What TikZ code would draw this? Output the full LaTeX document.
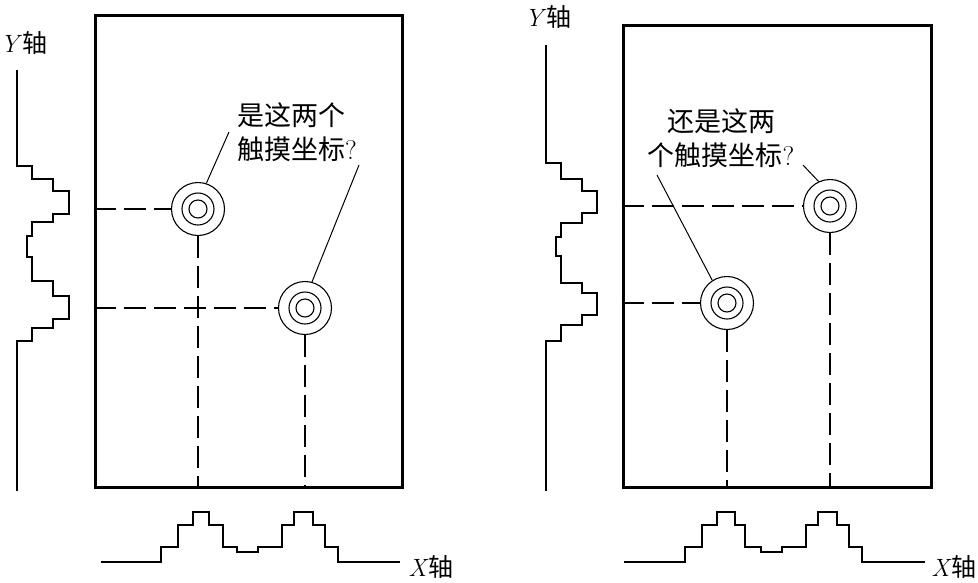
\documentclass[tikz,border=0pt]{standalone}
\usepackage{fontspec}
\newfontfamily\cjk{Noto Sans CJK SC}
\usetikzlibrary{positioning}

\begin{document}
\begin{tikzpicture}[
  x=1pt,y=-1pt,
  screen/.style={draw,line width=3pt,inner sep=0pt},
  touch/.style={circle,draw,line width=1.1pt,minimum size=53pt,inner sep=0pt},
  ring/.style={circle,draw,line width=1.1pt,inner sep=0pt},
  guide/.style={dash pattern=on 22pt off 8pt,line width=1.2pt},
  leader/.style={line width=1pt},
  profile/.style={line width=1.6pt},
  axislabel/.style={font=\fontsize{25}{30}\selectfont,inner sep=0pt},
  note/.style={font=\cjk\fontsize{27}{34}\selectfont,inner sep=0pt}
]
\useasboundingbox (0,0) rectangle (978,582);

% left panel: two touches, one reading
\node[screen,minimum width=307pt,minimum height=472pt] (sL) at (248.5,251) {};
\node[touch] (p1) at (198,209) {};
\node[touch] (p2) at (305,308) {};
\foreach \p in {p1,p2}{
  \node[ring,minimum size=32pt] at (\p) {};
  \node[ring,minimum size=18pt] at (\p) {};
  \draw[guide] (sL.west |- \p) -- (\p.west);
  \draw[guide] (\p.south) -- (\p.south |- sL.south);
}
\node[note,align=left] (qL) at (297,132) {是这两个\\触摸坐标\textrm{?}};
\coordinate (qL1) at (229,132);
\coordinate (qL2) at (359,165);
\draw[leader] (qL1) -- (p1.72);
\draw[leader] (qL2) -- (p2.75);

% left profiles
\draw[profile] (17,70) -- (17,166) -- (32,166) -- (32,179) -- (53,179) -- (53,191) -- (69,191) -- (69,214)
  -- (53,214) -- (53,222) -- (32,222) -- (32,236) -- (27,236) -- (27,257) -- (32,257) -- (32,281)
  -- (53,281) -- (53,296) -- (69,296) -- (69,319) -- (53,319) -- (53,328) -- (32,328) -- (32,341)
  -- (17,341) -- (17,491);
\draw[profile] (101,562) -- (161,562) -- (161,547) -- (178,547) -- (178,525) -- (193,525) -- (193,512)
  -- (209,512) -- (209,525) -- (223,525) -- (223,547) -- (237,547) -- (237,552) -- (258,552)
  -- (258,547) -- (282,547) -- (282,525) -- (294,525) -- (294,512) -- (313,512) -- (313,525)
  -- (325,525) -- (325,547) -- (338,547) -- (338,562) -- (400,562);
\node[axislabel] (yL) at (24,43) {\textit{Y}\cjk 轴};
\node[axislabel] (xL) at (431,567) {\textit{X}\cjk 轴};

% right panel: the other pairing
\node[screen,minimum width=308pt,minimum height=462pt] (sR) at (777,256) {};
\node[touch] (pA) at (830,206) {};
\node[touch] (pB) at (727,303) {};
\foreach \p in {pA,pB}{
  \node[ring,minimum size=32pt] at (\p) {};
  \node[ring,minimum size=18pt] at (\p) {};
  \draw[guide] (sR.west |- \p) -- (\p.west);
  \draw[guide] (\p.south) -- (\p.south |- sR.south);
}
\node[note,align=center] (qR) at (721,138) {还是这两\\个触摸坐标\textrm{?}};
\coordinate (qR1) at (803,165);
\coordinate (qR2) at (657,175);
\draw[leader] (qR1) -- (pA.115);
\draw[leader] (qR2) -- (pB.123);

% right profiles
\draw[profile] (546,45) -- (546,163) -- (561,163) -- (561,179) -- (582,179) -- (582,191) -- (597,191) -- (597,213)
  -- (582,213) -- (582,223) -- (561,223) -- (561,237) -- (556,237) -- (556,256) -- (561,256) -- (561,283)
  -- (582,283) -- (582,293) -- (597,293) -- (597,315) -- (582,315) -- (582,325) -- (561,325) -- (561,341)
  -- (546,341) -- (546,491);
\draw[profile] (624,562) -- (685,562) -- (685,547) -- (702,547) -- (702,525) -- (717,525) -- (717,512)
  -- (735,512) -- (735,525) -- (745,525) -- (745,547) -- (761,547) -- (761,552) -- (782,552)
  -- (782,547) -- (806,547) -- (806,525) -- (818,525) -- (818,512) -- (837,512) -- (837,525)
  -- (849,525) -- (849,547) -- (862,547) -- (862,562) -- (925,562);
\node[axislabel] (yR) at (548,17) {\textit{Y}\cjk 轴};
\node[axislabel] (xR) at (954,567) {\textit{X}\cjk 轴};
\end{tikzpicture}
\end{document}
